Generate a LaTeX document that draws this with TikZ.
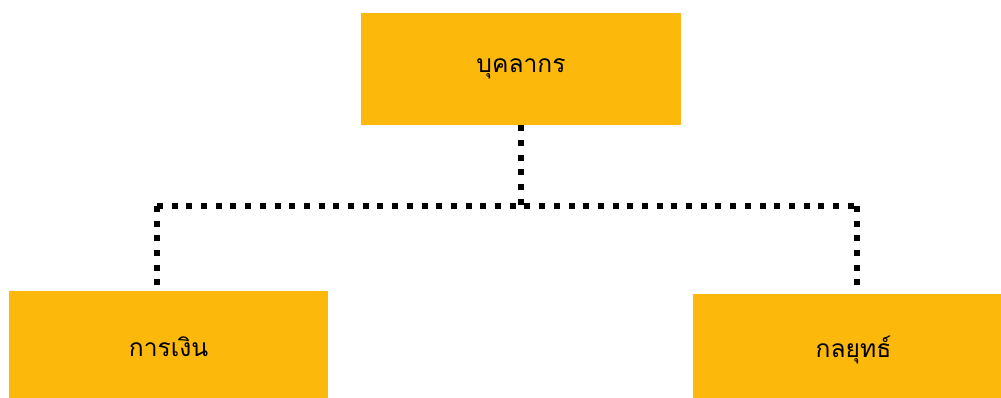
\documentclass[tikz,border=0pt]{standalone}
\usepackage{fontspec}
\newfontfamily\thaifont[Script=Thai]{Loma}
\definecolor{amber}{HTML}{FDB90B}
\tikzset{
  unit/.style={fill=amber, minimum width=6.4cm, minimum height=2.24cm, inner sep=0pt,
    font=\thaifont\fontsize{14}{16}\selectfont},
  link/.style={line width=0.12cm, dash pattern=on 0.12cm off 0.174cm}
}
\begin{document}
\begin{tikzpicture}[x=0.02cm,y=-0.02cm]
  \useasboundingbox (0,0) rectangle (1001,397);
  \node[unit] (staff) at (521,69) {บุคลากร};
  \node[unit, minimum width=6.38cm] (finance) at (168.5,347) {การเงิน};
  \node[unit, minimum width=6.42cm] (strategy) at (853.5,350) {กลยุทธ์};
  % bus line between the two lower boxes
  \coordinate (hub) at (521,206);
  \coordinate (leftdrop) at (157,206);
  \coordinate (rightdrop) at (857,206);
  \draw[link] (staff.south) -- (hub);
  \draw[link] (leftdrop) -- (rightdrop);
  \draw[link] (leftdrop) -- (leftdrop |- finance.north);
  \draw[link] (rightdrop) -- (rightdrop |- strategy.north);
\end{tikzpicture}
\end{document}
